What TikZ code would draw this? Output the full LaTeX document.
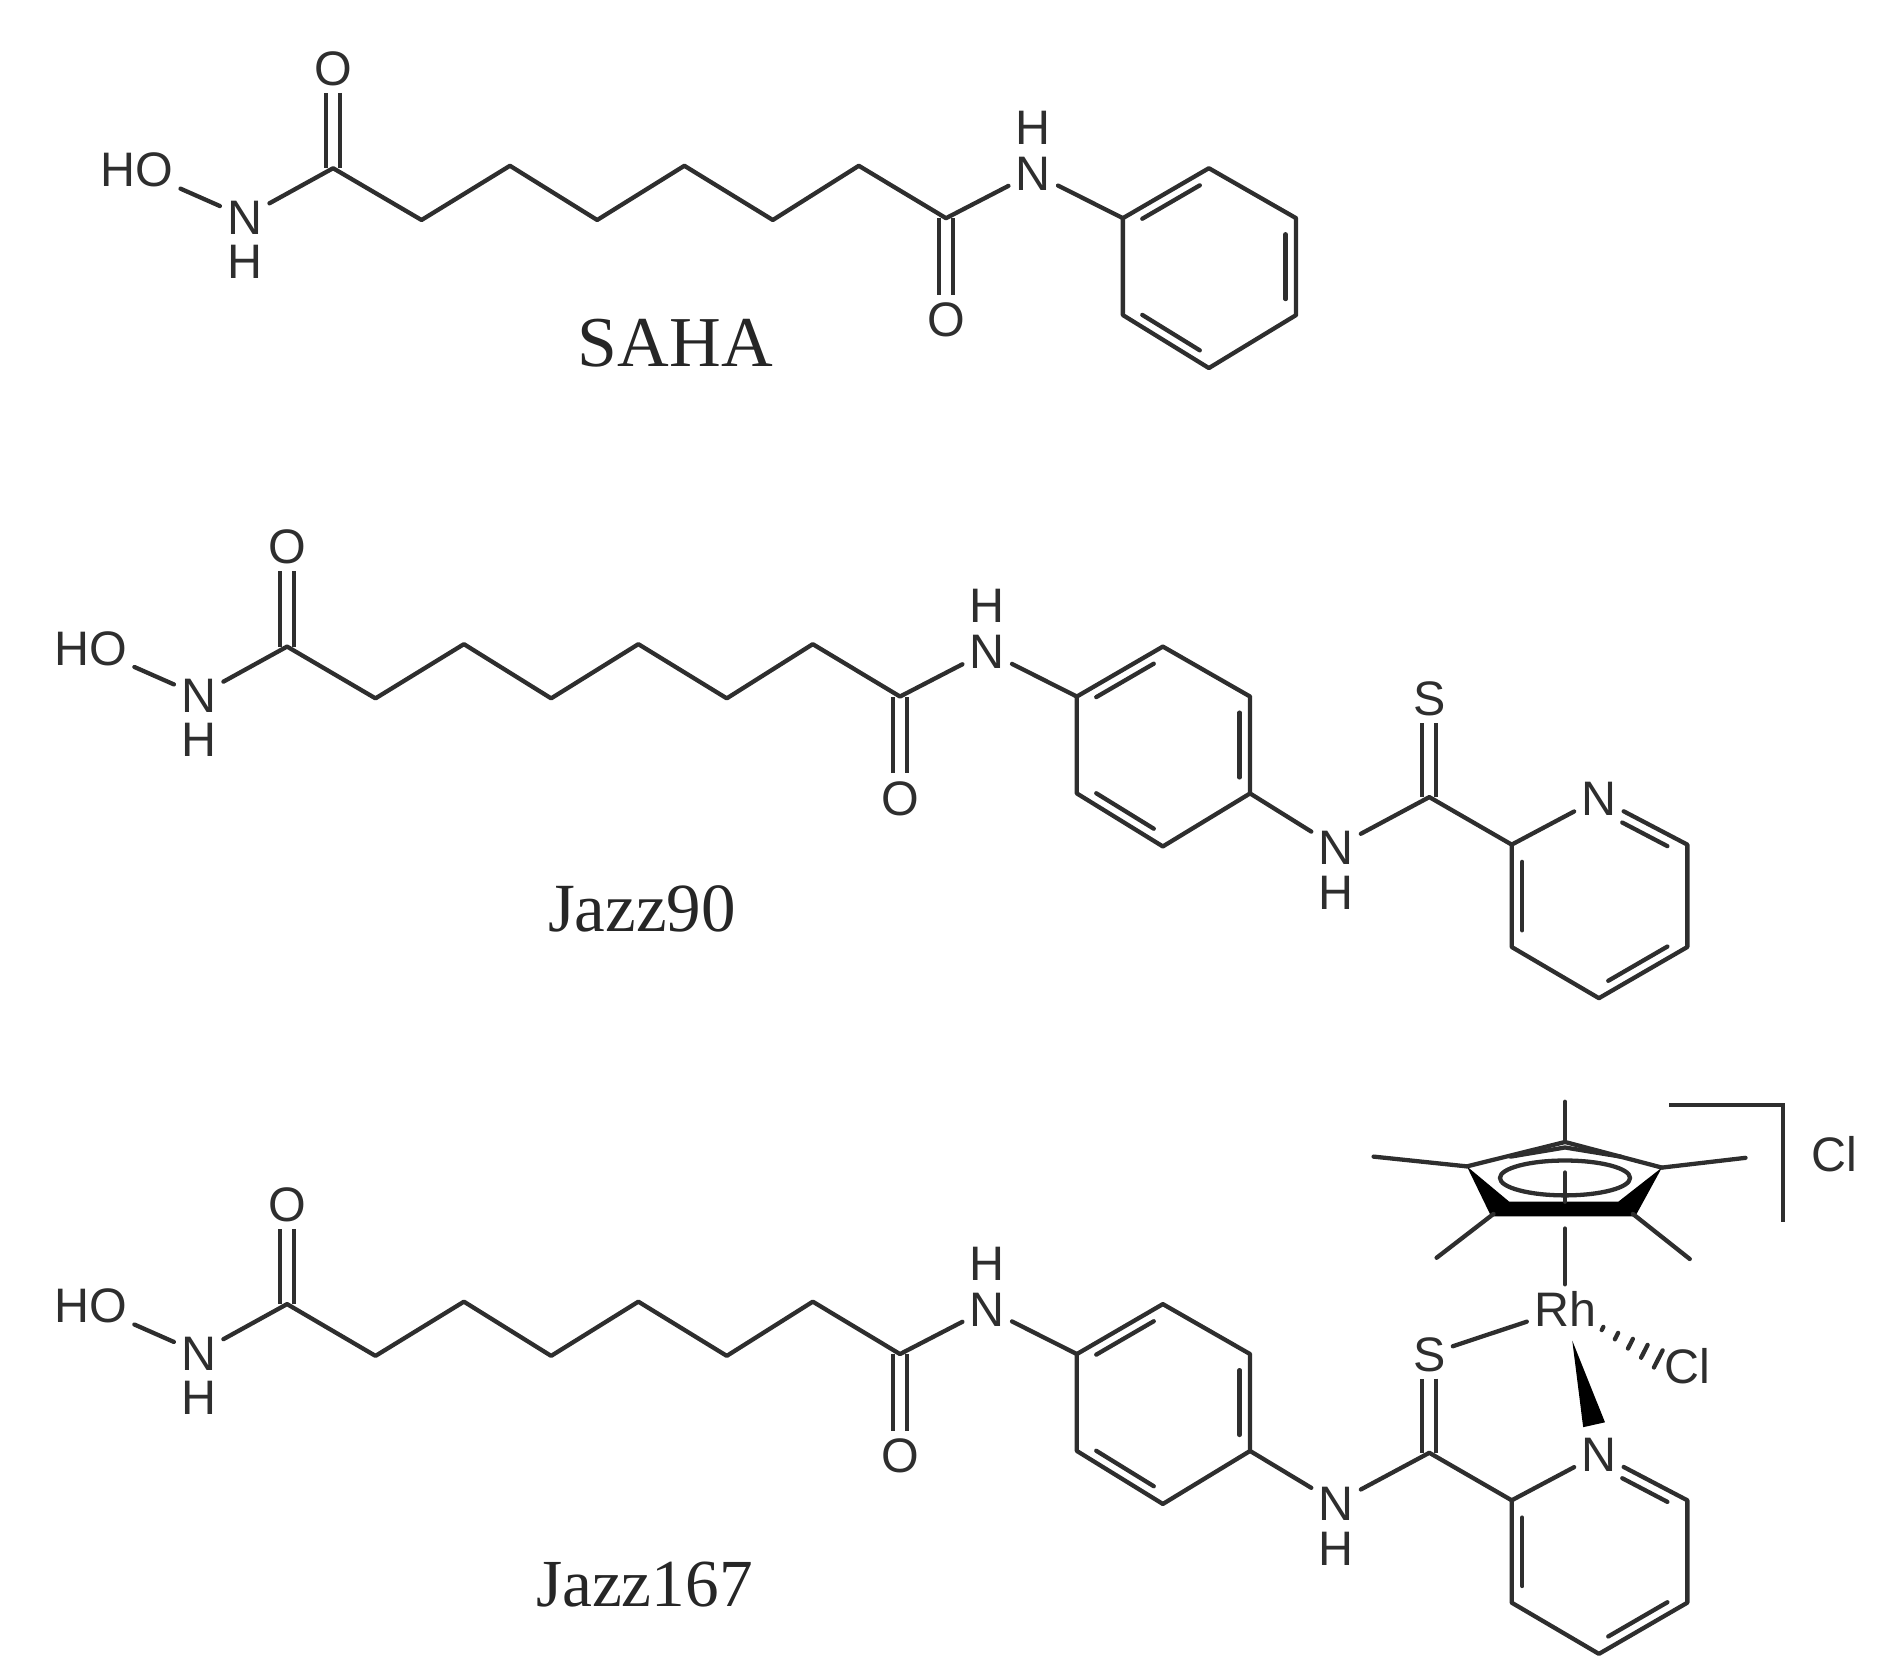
\documentclass[tikz,border=0pt]{standalone}
\usepackage{fontspec}
\setmainfont{Liberation Serif}
\newfontfamily\atomfont{Liberation Sans}
\usetikzlibrary{calc, positioning}
\definecolor{ink}{gray}{0.18}
\tikzset{
  bond/.style={draw=ink, line width=1pt, line cap=round, line join=round},
  dblbond/.style={draw=ink, line width=0.95pt, double, double distance=2.3pt},
  atom/.style={font=\atomfont\fontsize{11.3}{12}\selectfont, text=ink, inner sep=1.5pt, text height=8.1pt, text depth=0pt},
  title/.style={font=\fontsize{16.1}{18}\selectfont, text=black!85, anchor=base, inner sep=0pt}
}
\newcommand{\innerbond}[3]{\draw[bond] ($(#1)!.12!(#2)!.12!(#3)$) -- ($(#2)!.12!(#1)!.12!(#3)$);}
\begin{document}
\begin{tikzpicture}[x=0.00994cm, y=-0.01cm]
  \useasboundingbox (0,0) rectangle (1569.4,1374.5);
  % Hydroxamate, linker, amide and first ring
  \foreach \m/\ox/\oy in {a/0/0, b/-38/392.5, c/-38/932} {
    \begin{scope}[shift={(\ox,\oy)}]
      \node[atom] (\m-ho) at (113,139) {HO};
      \node[atom] (\m-na) at (202,178) {N};
      \node[atom] (\m-ha) at (202,214) {H};
      \node[atom] (\m-oa) at (275,56) {O};
      \node[atom] (\m-nb) at (853,142) {N};
      \node[atom] (\m-hb) at (853,104) {H};
      \node[atom] (\m-ob) at (781,262) {O};
      \foreach \i/\x/\y in {1/275/138, 2/348/180.5, 3/421/136, 4/493/180.5, 5/565/136, 6/638/180.5, 7/709/136, 8/781/179}
        \coordinate (\m-c\i) at (\x,\y);
      \foreach \i/\x/\y in {1/927/179, 2/998/138, 3/1070/179, 4/1070/258.5, 5/998/302, 6/927/258.5}
        \coordinate (\m-r\i) at (\x,\y);
      \coordinate (\m-rc) at (998,219);
      \draw[dblbond] (\m-oa) -- (\m-c1);
      \draw[dblbond] (\m-ob) -- (\m-c8);
      \draw[bond] (\m-ho) -- (\m-na);
      \draw[bond] (\m-na) -- (\m-c1) -- (\m-c2) -- (\m-c3) -- (\m-c4) -- (\m-c5) -- (\m-c6) -- (\m-c7) -- (\m-c8) -- (\m-nb);
      \draw[bond] (\m-nb) -- (\m-r1);
      \draw[bond] (\m-r1) -- (\m-r2) -- (\m-r3) -- (\m-r4) -- (\m-r5) -- (\m-r6) -- cycle;
      \innerbond{\m-r1}{\m-r2}{\m-rc}
      \innerbond{\m-r3}{\m-r4}{\m-rc}
      \innerbond{\m-r5}{\m-r6}{\m-rc}
    \end{scope}
  }
  % Thioamide and pyridine
  \foreach \m/\oy in {b/0, c/538} {
    \begin{scope}[shift={(0,\oy)}]
      \node[atom] (\m-s) at (1180,573) {S};
      \node[atom] (\m-nc) at (1103,695) {N};
      \node[atom] (\m-hc) at (1103,732) {H};
      \node[atom] (\m-nd) at (1320,655) {N};
      \coordinate (\m-cs) at (1180,654);
      \coordinate (\m-p2) at (1248,693);
      \coordinate (\m-p3) at (1248,777);
      \coordinate (\m-p4) at (1320,819);
      \coordinate (\m-p5) at (1393,777);
      \coordinate (\m-p6) at (1393,693);
      \coordinate (\m-pc) at (1320,737);
      \draw[dblbond] (\m-s) -- (\m-cs);
      \draw[bond] (\m-r4) -- (\m-nc) -- (\m-cs) -- (\m-p2) -- (\m-nd);
      \draw[bond] (\m-nd) -- (\m-p6) -- (\m-p5) -- (\m-p4) -- (\m-p3) -- (\m-p2);
      \innerbond{\m-p2}{\m-p3}{\m-pc}
      \innerbond{\m-p4}{\m-p5}{\m-pc}
      \draw[bond] ($(\m-nd.center)!.3!(\m-p6)!.12!(\m-pc)$) -- ($(\m-p6)!.12!(\m-nd.center)!.12!(\m-pc)$);
    \end{scope}
  }
  % Cp* ring
  \coordinate (cp1) at (1292,937);
  \coordinate (cp2) at (1372,958);
  \coordinate (cp3) at (1348,996);
  \coordinate (cp4) at (1233,996);
  \coordinate (cp5) at (1211,957);
  \coordinate (me1) at (1292,904);
  \coordinate (me2) at (1441,950);
  \coordinate (me3) at (1395,1033);
  \coordinate (me4) at (1186,1032);
  \coordinate (me5) at (1134,949);
  \draw[bond] (cp5) -- (cp1) -- (cp2);
  \draw[bond] (1247,949) -- (1292,941.5) -- (1338,949);
  \fill[black] (cp5) -- (1231,998) -- (1350,998) -- (cp2) -- (1336,986) -- (1246,986) -- cycle;
  \draw[bond] (cp1) -- (me1);
  \draw[bond] (cp2) -- (me2);
  \draw[bond] (cp3) -- (me3);
  \draw[bond] (cp4) -- (me4);
  \draw[bond] (cp5) -- (me5);
  \draw[bond] (1292,966.5) ellipse (53.7 and 14.3);
  \draw[bond] (1292,962) -- (1292,986);
  % Metal centre
  \node[atom] (rh) at (1292,1074) {Rh};
  \node[atom] (cla) at (1393,1121) {Cl};
  \node[atom] (clb) at (1514,947) {Cl};
  \coordinate (cpb) at (1292,1008);
  \coordinate (wa) at (1298,1100);
  \coordinate (wb) at (1307,1171);
  \coordinate (wc) at (1325,1167);
  \coordinate (hs) at (1323,1090);
  \coordinate (he) at (1369,1115);
  \draw[bond] (cpb) -- (rh);
  \draw[bond] (c-s) -- (rh);
  \fill[black] (wa) -- (wb) -- (wc) -- cycle;
  \foreach \t/\h in {0/1.5, .25/3, .5/4.5, .75/6, 1/8}
    \draw[bond] ($(hs)!\t!(he)+(\h*.45,-\h*.88)$) -- ($(hs)!\t!(he)+(-\h*.45,\h*.88)$);
  % Bracket
  \draw[bond, line cap=butt, line join=miter] (1378,906.5) -- (1472,906.5) -- (1472,1003);
  % Names
  \node[title, font=\fontsize{16.7}{18}\selectfont] (saha) at (557.5,301) {SAHA};
  \node[title] (jazzb) at (530,764) {Jazz90};
  \node[title, font=\fontsize{15.7}{18}\selectfont] (jazzc) at (532,1318) {Jazz167};
\end{tikzpicture}
\end{document}
